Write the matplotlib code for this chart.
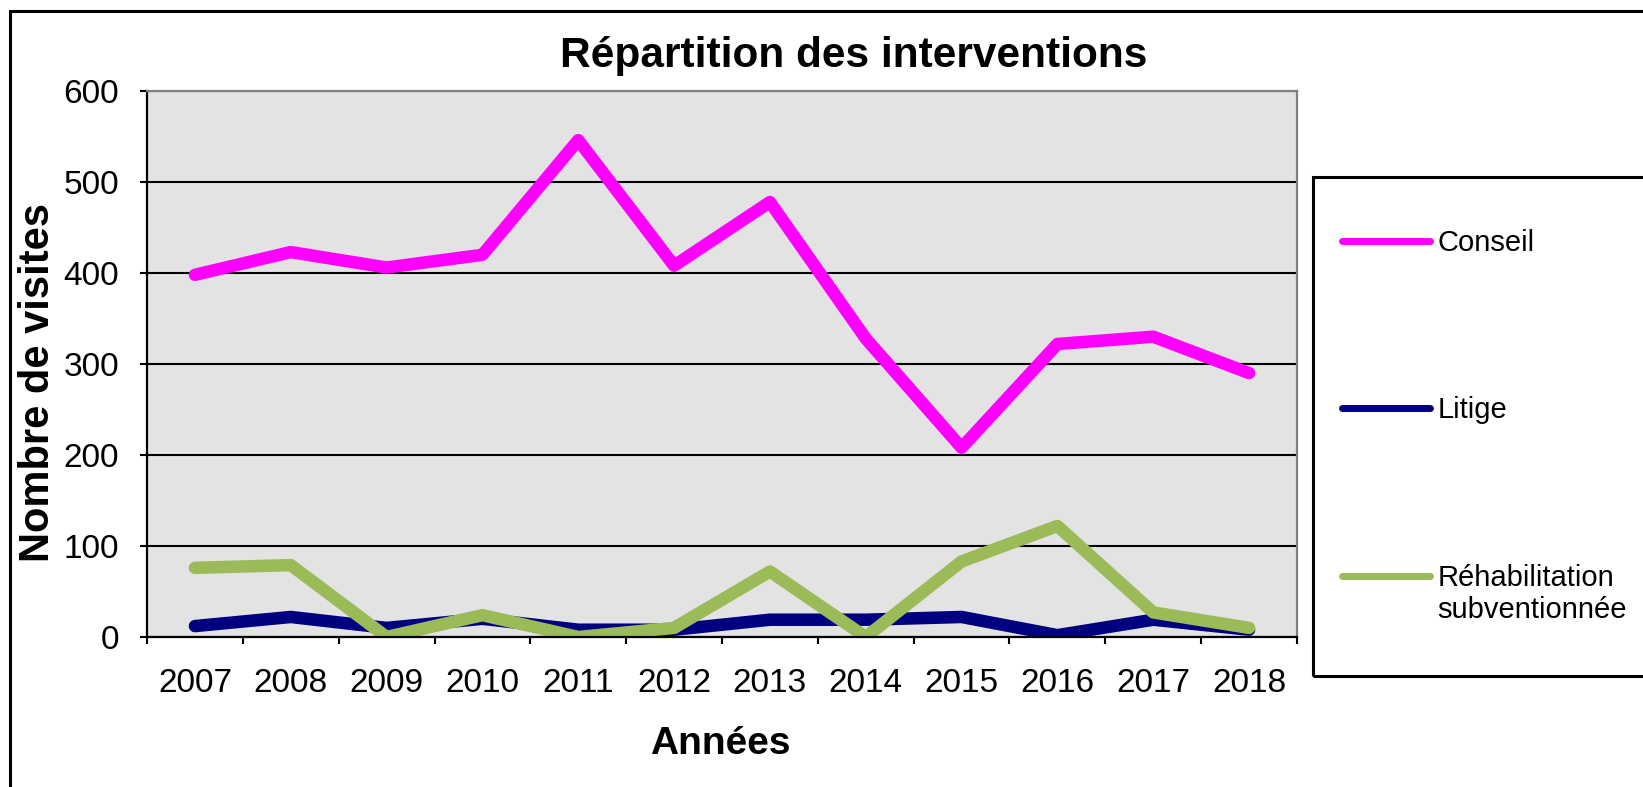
import numpy as np
import matplotlib
matplotlib.use('Agg')
import matplotlib.pyplot as plt
from matplotlib.patches import Rectangle

plt.rcParams['font.family'] = ['Liberation Sans', 'DejaVu Sans']

annees = ['2007', '2008', '2009', '2010', '2011', '2012',
          '2013', '2014', '2015', '2016', '2017', '2018']
conseil = [398, 423, 406, 420, 546, 408, 478, 328, 208, 322, 330, 290]
litige = [12, 22, 10, 20, 8, 8, 19, 19, 22, 2, 19, 8]
rehabilitation = [76, 79, 0, 24, 0, 10, 72, 0, 83, 122, 27, 10]

W, H = 1643, 787
fig = plt.figure(figsize=(W / 100, H / 100), dpi=100)
fig.patch.set_facecolor('white')

# outer frame of the chart object
fig.patches.append(Rectangle((10 / W, -0.1), 1.2, 1.1 - 11 / H,
                             transform=fig.transFigure, fill=False,
                             edgecolor='black', linewidth=2.2, clip_on=False))

ax = fig.add_axes([147 / W, (H - 637) / H, 1150 / W, 546 / H])
ax.set_facecolor('#E3E3E3')

x = np.arange(len(annees))
ax.plot(x, conseil, color='#FF00FF', lw=9, solid_capstyle='round', label='Conseil')
ax.plot(x, litige, color='#000080', lw=9, solid_capstyle='round', label='Litige')
ax.plot(x, rehabilitation, color='#9BBB59', lw=9, solid_capstyle='round',
        label='Réhabilitation\nsubventionnée')

ax.set_xlim(-0.5, len(annees) - 0.5)
ax.set_ylim(0, 600)
ax.set_yticks(np.arange(0, 601, 100))
ax.set_xticks(np.arange(-0.5, len(annees)), labels=[])
ax.set_xticks(x, labels=annees, minor=True)
ax.tick_params(axis='x', which='major', direction='out', length=5, width=1.5, color='black')
ax.tick_params(axis='x', which='minor', length=0, pad=22, labelsize=24)
ax.tick_params(axis='y', direction='out', length=5, width=1.5, pad=15, labelsize=24)

ax.set_axisbelow(True)
ax.yaxis.grid(True, color='black', lw=1.5)
for s in ['left', 'bottom']:
    ax.spines[s].set_color('black')
    ax.spines[s].set_linewidth(1.6)
for s in ['top', 'right']:
    ax.spines[s].set_color('#808080')
    ax.spines[s].set_linewidth(1.6)

fig.text(854 / W, 1 - 67 / H, 'Répartition des interventions', ha='center',
         va='baseline', fontsize=30.5, fontweight='bold')
fig.text(720 / W, 1 - 754 / H, 'Années', ha='center', va='baseline',
         fontsize=28, fontweight='bold')
fig.text(38 / W, 1 - 383 / H, 'Nombre de visites', ha='center', va='center',
         rotation=90, fontsize=30, fontweight='bold')

# legend box
fig.patches.append(Rectangle((1313 / W, 1 - 676 / H), 0.3, (676 - 177) / H,
                             transform=fig.transFigure, fill=False,
                             edgecolor='black', linewidth=2.2, clip_on=False))
leg = ax.legend(loc='upper left', bbox_to_anchor=(1342 / W, 1 - 229 / H),
                bbox_transform=fig.transFigure, frameon=False, borderpad=0,
                borderaxespad=0, handlelength=3.0, handletextpad=0.28,
                labelspacing=4.78, fontsize=21)
for ln in leg.get_lines():
    ln.set_linewidth(5)
    ln.set_solid_capstyle('round')
# align the last handle with the first line of its two-line label
ln = leg.get_lines()[2]
ln.set_ydata(np.asarray(ln.get_ydata()) + 13.5)

fig.savefig('out.png', dpi=100)
